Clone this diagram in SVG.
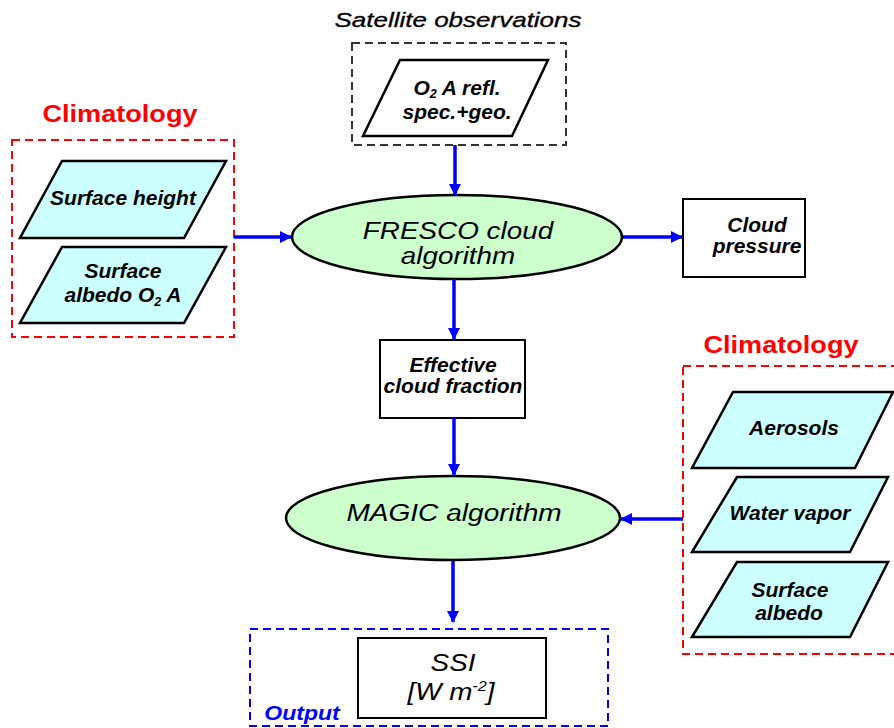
<svg xmlns="http://www.w3.org/2000/svg" width="894" height="728" viewBox="0 0 894 728">
<defs>
<marker id="ah" markerWidth="12" markerHeight="12" refX="11" refY="6" orient="auto" markerUnits="userSpaceOnUse" viewBox="0 0 12 12">
<path d="M0,0 L12,6 L0,12 z" fill="#0000ff"/>
</marker>
<style>
.para{fill:#ccffff;stroke:#000;stroke-width:2.5;stroke-linejoin:miter}
.ell{fill:#ccffcc;stroke:#000;stroke-width:2.5}
.box{fill:#fff;stroke:#000;stroke-width:2}
.grp-red{fill:none;stroke:#ff0000;stroke-width:2;stroke-dasharray:8,5}
.grp-blk{fill:none;stroke:#333;stroke-width:2;stroke-dasharray:8,5}
.grp-blu{fill:none;stroke:#0000ff;stroke-width:2;stroke-dasharray:8,5}
.t{font-family:"Liberation Sans",Arial,sans-serif;font-style:italic;font-weight:bold;font-size:20px;fill:#000;text-anchor:middle}
.tl{font-family:"Liberation Sans",Arial,sans-serif;font-style:italic;font-size:24px;fill:#000;text-anchor:middle}
.title{font-family:"Liberation Sans",Arial,sans-serif;font-weight:bold;font-size:24px;fill:#ff0000;text-anchor:middle}
.sub{font-size:12px}
.conn{stroke:#0000ff;stroke-width:3.5;fill:none;marker-end:url(#ah)}
</style>
</defs>
<rect width="894" height="728" fill="#fff"/>

<g id="satellite">
<text transform="translate(458 27) scale(1.3 1)" style="font-family:'Liberation Sans',Arial,sans-serif;font-style:italic;font-size:20px;text-anchor:middle;fill:#000;stroke:#000;stroke-width:0.3">Satellite observations</text>
<rect x="352" y="43" width="214" height="102" class="grp-blk"/>
<g id="o2a">
<polygon points="400,60 548,60 512,136 363,136" class="para" style="fill:#fff"/>
<text transform="translate(457 95) scale(1.05 1)" class="t">O<tspan class="sub" dy="3">2</tspan><tspan dy="-3"> A refl.</tspan></text>
<text transform="translate(457 119) scale(1.05 1)" class="t">spec.+geo.</text>
</g>
</g>

<g id="climatology-left">
<text transform="translate(120 122) scale(1.13 1)" class="title">Climatology</text>
<rect x="12" y="140" width="222" height="197" class="grp-red"/>
<g id="surface-height">
<polygon points="62,161 226,161 184,238 20,238" class="para"/>
<text transform="translate(123 205) scale(1.05 1)" class="t">Surface height</text>
</g>
<g id="surface-albedo-o2a">
<polygon points="62,247 226,247 184,323 20,323" class="para"/>
<text transform="translate(123 278) scale(1.05 1)" class="t">Surface</text>
<text transform="translate(123 302) scale(1.05 1)" class="t">albedo O<tspan class="sub" dy="4">2</tspan><tspan dy="-4"> A</tspan></text>
</g>
</g>

<g id="fresco">
<ellipse cx="457" cy="237" rx="165" ry="42" class="ell"/>
<text transform="translate(458 239) scale(1.16 1)" class="tl">FRESCO cloud</text>
<text transform="translate(458 264) scale(1.16 1)" class="tl">algorithm</text>
</g>

<g id="cloud-pressure">
<rect x="683" y="199" width="122" height="78" class="box"/>
<text transform="translate(757 232) scale(1.05 1)" class="t">Cloud</text>
<text transform="translate(757 253) scale(1.05 1)" class="t">pressure</text>
</g>

<g id="effective-cloud-fraction">
<rect x="380" y="340" width="145" height="78" class="box"/>
<text transform="translate(453 372) scale(1.05 1)" class="t">Effective</text>
<text transform="translate(453 393) scale(1.05 1)" class="t">cloud fraction</text>
</g>

<g id="magic">
<ellipse cx="453" cy="518" rx="167" ry="42" class="ell"/>
<text transform="translate(454 521) scale(1.17 1)" class="tl">MAGIC algorithm</text>
</g>

<g id="climatology-right">
<text transform="translate(781 353) scale(1.13 1)" class="title">Climatology</text>
<rect x="683" y="366" width="230" height="288" class="grp-red"/>
<g id="aerosols">
<polygon points="733,392 893,392 855,468 692,468" class="para"/>
<text transform="translate(794 435) scale(1.05 1)" class="t">Aerosols</text>
</g>
<g id="water-vapor">
<polygon points="737,477 888,477 850,552 692,552" class="para"/>
<text transform="translate(790 520) scale(1.05 1)" class="t">Water vapor</text>
</g>
<g id="surface-albedo">
<polygon points="737,562 888,562 850,637 692,637" class="para"/>
<text transform="translate(790 597) scale(1.05 1)" class="t">Surface</text>
<text transform="translate(789 620) scale(1.05 1)" class="t">albedo</text>
</g>
</g>

<g id="output">
<rect x="250" y="629" width="358" height="97" class="grp-blu"/>
<text transform="translate(302 720) scale(1.15 1)" class="t" style="fill:#0000ff">Output</text>
<g id="ssi">
<rect x="358" y="638" width="188" height="80" class="box"/>
<text transform="translate(453 671) scale(1.16 1)" class="tl">SSI</text>
<text transform="translate(451 700) scale(1.16 1)" class="tl">[W m<tspan style="font-size:14px" dy="-9">-2</tspan><tspan dy="9">]</tspan></text>
</g>
</g>

<g id="connectors">
<line x1="455" y1="145" x2="455" y2="195" class="conn"/>
<line x1="234" y1="237" x2="291" y2="237" class="conn"/>
<line x1="623" y1="237" x2="682" y2="237" class="conn"/>
<line x1="454" y1="279" x2="454" y2="339" class="conn"/>
<line x1="454" y1="418" x2="454" y2="475" class="conn"/>
<line x1="683" y1="519" x2="621" y2="519" class="conn"/>
<line x1="453" y1="561" x2="453" y2="622" class="conn"/>
</g>
</svg>
